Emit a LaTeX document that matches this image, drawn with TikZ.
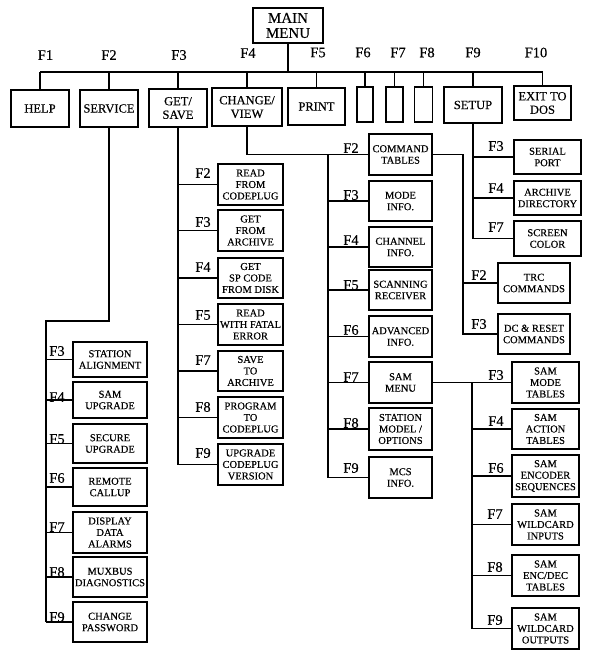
\documentclass[tikz,border=0pt]{standalone}
\usepackage{fontspec}
\setmainfont{Liberation Serif}[BoldFont={Liberation Serif}, BoldFeatures={FakeBold=0.35}]
\usetikzlibrary{calc}
\begin{document}
\begin{tikzpicture}[x=1pt,y=-1pt,
  sz/.style 2 args={minimum width=#1, minimum height=#2},
  bx/.style={draw, line width=1.4pt, fill=white, inner sep=0pt, align=center, font=\fontsize{10.5}{11.5}\selectfont\bfseries},
  topbx/.style={draw, line width=1.4pt, fill=white, inner sep=0pt, align=center, font=\fontsize{12.5}{13.5}\selectfont\bfseries},
  flab/.style={inner sep=0pt, font=\fontsize{14.5}{14.5}\selectfont\bfseries},
  conn/.style={line width=1.3pt}]
\useasboundingbox (0,0) rectangle (591,657);

% main menu and top row
\node[topbx, sz={70}{35}, font=\fontsize{15}{15}\selectfont\bfseries] (main) at (288,25.5) {MAIN\\MENU};
\node[topbx, sz={58}{37}] (help) at (40,108.5) {HELP};
\node[topbx, sz={58}{37}] (service) at (109,108.5) {SERVICE};
\node[topbx, sz={58}{38}] (getsave) at (178,108) {GET/\\SAVE};
\node[topbx, sz={70}{38}] (change) at (247,107) {CHANGE/\\VIEW};
\node[topbx, sz={57}{37}] (print) at (316.5,106.5) {PRINT};
\node[topbx, sz={16}{35}] (bsix) at (365,104.5) {};
\node[topbx, sz={17}{35}] (bseven) at (394.5,104.5) {};
\node[topbx, sz={18}{35}] (beight) at (423.5,104.5) {};
\node[topbx, sz={58}{36}] (setup) at (473,105) {SETUP};
\node[topbx, sz={57}{34}] (exit) at (542.5,103) {EXIT TO\\DOS};

\coordinate (bar) at (0,72);
\draw[conn] (main.south) -- (main.south |- bar);
\draw[conn] (help.north |- bar) -- (exit.north |- bar);
\foreach \n in {help,service,getsave,change,print,bsix,bseven,beight,setup,exit}
  \draw[conn] (\n.north |- bar) -- (\n.north);

\node[flab] (tf1) at (45.5,55) {F1};
\node[flab] (tf2) at (109,55) {F2};
\node[flab] (tf3) at (179,55) {F3};
\node[flab] (tf4) at (248,53) {F4};
\node[flab] (tf5) at (318,52.5) {F5};
\node[flab] (tf6) at (363,52.5) {F6};
\node[flab] (tf7) at (398,52.5) {F7};
\node[flab] (tf8) at (427,52.5) {F8};
\node[flab] (tf9) at (473,52.5) {F9};
\node[flab] (tf10) at (536,52.5) {F10};

% GET/SAVE column
\node[bx, sz={65}{41}] (gsa) at (250.5,184.5) {READ\\FROM\\CODEPLUG};
\node[bx, sz={65}{41}] (gsb) at (250.5,230.5) {GET\\FROM\\ARCHIVE};
\node[bx, sz={65}{40}] (gsc) at (250.5,278) {GET\\SP CODE\\FROM DISK};
\node[bx, sz={65}{41}] (gsd) at (250.5,324.5) {READ\\WITH FATAL\\ERROR};
\node[bx, sz={65}{40}] (gse) at (250.5,371) {SAVE\\TO\\ARCHIVE};
\node[bx, sz={65}{41}] (gsf) at (250.5,417.5) {PROGRAM\\TO\\CODEPLUG};
\node[bx, sz={65}{41}] (gsg) at (250.5,464.5) {UPGRADE\\CODEPLUG\\VERSION};
\draw[conn] (getsave.south) -- (getsave.south |- gsg.west);
\foreach \n in {gsa,gsb,gsc,gsd,gse,gsf,gsg}
  \draw[conn] (getsave.south |- \n.west) -- (\n.west);
\node[flab] (lgsa) at (203,173) {F2};
\node[flab] (lgsb) at (203,222) {F3};
\node[flab] (lgsc) at (203,267) {F4};
\node[flab] (lgsd) at (203,315) {F5};
\node[flab] (lgse) at (203,360) {F7};
\node[flab] (lgsf) at (203,407) {F8};
\node[flab] (lgsg) at (203,453) {F9};

% CHANGE/VIEW column
\node[bx, sz={63}{41}] (cva) at (400.5,154.5) {COMMAND\\TABLES};
\node[bx, sz={63}{40}] (cvb) at (400.5,201) {MODE\\INFO.};
\node[bx, sz={63}{40}] (cvc) at (400.5,247) {CHANNEL\\INFO.};
\node[bx, sz={63}{40}] (cvd) at (400.5,290) {SCANNING\\RECEIVER};
\node[bx, sz={63}{41}] (cve) at (400.5,336.5) {ADVANCED\\INFO.};
\node[bx, sz={63}{41}] (cvf) at (400.5,382.5) {SAM\\MENU};
\node[bx, sz={63}{42}] (cvg) at (400.5,429) {STATION\\MODEL /\\OPTIONS};
\node[bx, sz={63}{41}] (cvh) at (400.5,477.5) {MCS\\INFO.};
\coordinate (cvx) at (328,0);
\draw[conn] (change.south) |- (cva.west);
\draw[conn] (cva.west -| cvx) -- (cvh.west -| cvx);
\foreach \n in {cvb,cvc,cvd,cve,cvf,cvg,cvh}
  \draw[conn] (\n.west -| cvx) -- (\n.west);
\node[flab] (lcva) at (351,148) {F2};
\node[flab] (lcvb) at (351,195) {F3};
\node[flab] (lcvc) at (351,240) {F4};
\node[flab] (lcvd) at (351,285) {F5};
\node[flab] (lcve) at (351,330) {F6};
\node[flab] (lcvf) at (351,377) {F7};
\node[flab] (lcvg) at (351,423) {F8};
\node[flab] (lcvh) at (351,468) {F9};

% COMMAND TABLES subtree
\node[bx, sz={72}{40}] (trc) at (534,283) {TRC\\COMMANDS};
\node[bx, sz={72}{40}] (dcr) at (534,334) {DC \& RESET\\COMMANDS};
\coordinate (ctx) at (463,0);
\draw[conn] (cva.east) -| (dcr.west -| ctx) -- (dcr.west);
\draw[conn] (trc.west -| ctx) -- (trc.west);
\node[flab] (ltrc) at (479,275) {F2};
\node[flab] (ldcr) at (479,324) {F3};

% SETUP subtree
\node[bx, sz={67}{34}] (serial) at (547.5,157) {SERIAL\\PORT};
\node[bx, sz={67}{34}] (archdir) at (547.5,198) {ARCHIVE\\DIRECTORY};
\node[bx, sz={67}{35}] (screen) at (547.5,238.5) {SCREEN\\COLOR};
\draw[conn] (setup.south) -- (setup.south |- screen.west);
\foreach \n in {serial,archdir,screen}
  \draw[conn] (setup.south |- \n.west) -- (\n.west);
\node[flab] (lserial) at (496,146) {F3};
\node[flab] (larchdir) at (496,188) {F4};
\node[flab] (lscreen) at (496,227) {F7};

% SAM MENU subtree
\node[bx, sz={67}{41}] (sma) at (545.5,382.5) {SAM\\MODE\\TABLES};
\node[bx, sz={67}{40}] (smb) at (545.5,429) {SAM\\ACTION\\TABLES};
\node[bx, sz={67}{42}] (smc) at (545.5,476) {SAM\\ENCODER\\SEQUENCES};
\node[bx, sz={67}{41}] (smd) at (545.5,524.5) {SAM\\WILDCARD\\INPUTS};
\node[bx, sz={67}{41}] (sme) at (545.5,575.5) {SAM\\ENC/DEC\\TABLES};
\node[bx, sz={67}{41}] (smf) at (545.5,628.5) {SAM\\WILDCARD\\OUTPUTS};
\coordinate (smx) at (472,0);
\draw[conn] (cvf.east) -- (sma.west);
\draw[conn] (cvf.east -| smx) -- (smf.west -| smx);
\foreach \n in {smb,smc,smd,sme,smf}
  \draw[conn] (\n.west -| smx) -- (\n.west);
\node[flab] (lsma) at (496,375) {F3};
\node[flab] (lsmb) at (496,421) {F4};
\node[flab] (lsmc) at (496,468) {F6};
\node[flab] (lsmd) at (495,514) {F7};
\node[flab] (lsme) at (495,567) {F8};
\node[flab] (lsmf) at (495,620) {F9};

% SERVICE subtree
\node[bx, sz={74}{35}] (sva) at (110,359.5) {STATION\\ALIGNMENT};
\node[bx, sz={74}{36}] (svb) at (110,400) {SAM\\UPGRADE};
\node[bx, sz={74}{39}] (svc) at (110,443.5) {SECURE\\UPGRADE};
\node[bx, sz={74}{38}] (svd) at (110,487) {REMOTE\\CALLUP};
\node[bx, sz={74}{41}] (sve) at (110,532.5) {DISPLAY\\DATA\\ALARMS};
\node[bx, sz={74}{40}] (svf) at (110,577) {MUXBUS\\DIAGNOSTICS};
\node[bx, sz={74}{40}] (svg) at (110,622) {CHANGE\\PASSWORD};
\coordinate (svx) at (46,321);
\draw[conn] (service.south) |- (svx) -- (svx |- svg.west);
\foreach \n in {sva,svb,svc,svd,sve,svf,svg}
  \draw[conn] (svx |- \n.west) -- (\n.west);
\node[flab] (lsva) at (57,351) {F3};
\node[flab] (lsvb) at (57,397) {F4};
\node[flab] (lsvc) at (57,439) {F5};
\node[flab] (lsvd) at (57,478) {F6};
\node[flab] (lsve) at (57,527) {F7};
\node[flab] (lsvf) at (57,572) {F8};
\node[flab] (lsvg) at (57,617) {F9};
\end{tikzpicture}
\end{document}
